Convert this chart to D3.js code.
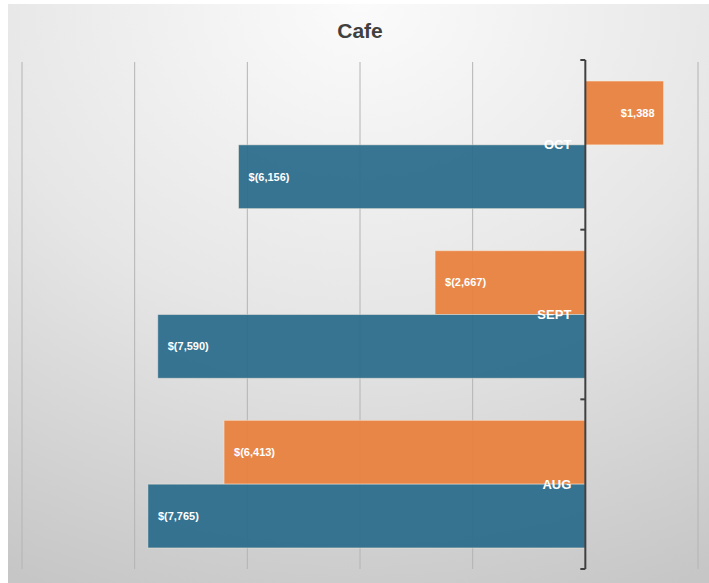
<!DOCTYPE html>
<html><head><meta charset="utf-8">
<script src="https://cdn.jsdelivr.net/npm/d3@7"></script>
<style>body{margin:0;background:#fff;}svg{display:block;font-family:"Liberation Sans",Arial,sans-serif;}</style>
</head><body>
<svg id="c" width="709" height="583"></svg>
<script>
const categories = ["OCT", "SEPT", "AUG"];
const seriesNames = ["Series A", "Series B"];
const orangeValues = [1388, -2667, -6413];
const blueValues = [-6156, -7590, -7765];
const xTicks = [-10000, -8000, -6000, -4000, -2000, 0, 2000];
const title = "Cafe";

const svg = d3.select("#c");
const defs = svg.append("defs");
const rg = defs.append("radialGradient").attr("id","bg")
  .attr("cx","50%").attr("cy","0%").attr("r","110%").attr("fx","50%").attr("fy","0%");
rg.append("stop").attr("offset","0%").attr("stop-color","#fbfbfb");
rg.append("stop").attr("offset","50%").attr("stop-color","#e6e6e6");
rg.append("stop").attr("offset","100%").attr("stop-color","#c6c6c6");
svg.append("rect").attr("x",8).attr("y",4).attr("width",701).attr("height",579).attr("fill","url(#bg)");

const x = d3.scaleLinear().domain([-10000, 2000]).range([22, 698]);
const y = d3.scaleBand().domain(categories).range([60, 569]).paddingInner(0).paddingOuter(0);
const inner = d3.scaleBand().domain(["o","b"]).range([0, y.bandwidth()]).paddingInner(0).paddingOuter(0.33);

// gridlines
svg.append("g").selectAll("line").data(xTicks.filter(t => t !== 0)).join("line")
  .attr("x1", d => x(d)).attr("x2", d => x(d)).attr("y1", 62).attr("y2", 569)
  .attr("stroke", "#b4b4b4").attr("stroke-width", 1);

svg.append("text").attr("x", 360).attr("y", 38).attr("text-anchor","middle")
  .attr("font-size", 21).attr("font-weight","bold").attr("fill","#404040").text(title);

const rows = categories.map((c,i) => ({c, o: orangeValues[i], b: blueValues[i]}));
const fmt = v => v < 0 ? "$(" + d3.format(",")(-v) + ")" : "$" + d3.format(",")(v);

const bars = [];
rows.forEach(r => {
  bars.push({c: r.c, k: "o", v: r.o, color: "#e9813f"});
  bars.push({c: r.c, k: "b", v: r.b, color: "#2c6c8c"});
});

const g = svg.append("g");
g.selectAll("rect").data(bars).join("rect")
  .attr("x", d => Math.min(x(0), x(d.v)))
  .attr("width", d => Math.abs(x(d.v) - x(0)))
  .attr("y", d => y(d.c) + inner(d.k))
  .attr("height", inner.bandwidth())
  .attr("fill", d => d.color).attr("fill-opacity", 0.94)
  .attr("stroke", "rgba(255,240,220,0.45)").attr("stroke-width", 1);

g.selectAll("text.val").data(bars).join("text").attr("class","val")
  .attr("x", d => d.v < 0 ? x(d.v) + 10 : x(d.v) - 9)
  .attr("text-anchor", d => d.v < 0 ? "start" : "end")
  .attr("y", d => y(d.c) + inner(d.k) + inner.bandwidth()/2)
  .attr("dy", "0.35em")
  .attr("font-size", 11).attr("font-weight","bold").attr("fill","#fff")
  .text(d => fmt(d.v));

// axis
const ax = svg.append("g").attr("transform", `translate(${x(0)},0)`);
ax.append("line").attr("x1",0).attr("x2",0).attr("y1",60).attr("y2",569).attr("stroke","#404040").attr("stroke-width",2);
const bounds = [60, ...categories.map(c => y(c) + y.bandwidth())];
ax.selectAll("line.tk").data(bounds).join("line").attr("class","tk")
  .attr("x1",-5).attr("x2",0).attr("y1",d=>d).attr("y2",d=>d).attr("stroke","#404040").attr("stroke-width",2);

ax.selectAll("text.cat").data(categories).join("text").attr("class","cat")
  .attr("x", -14).attr("y", d => y(d) + y.bandwidth()/2).attr("dy","0.35em")
  .attr("text-anchor","end").attr("font-size",13).attr("font-weight","bold").attr("fill","#fff")
  .text(d => d);
</script>
</body></html>
